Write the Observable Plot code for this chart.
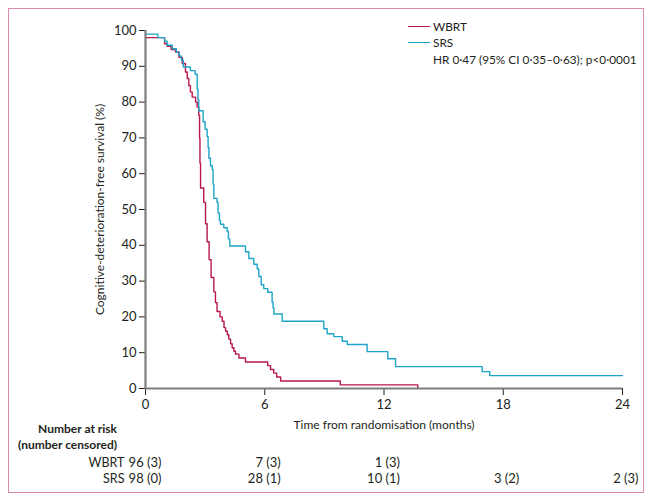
<!DOCTYPE html>
<html>
<head>
<meta charset="utf-8">
<script src="https://cdn.jsdelivr.net/npm/d3@7"></script>
<script src="https://cdn.jsdelivr.net/npm/@observablehq/plot@0.6"></script>
<style>
  html, body { margin: 0; padding: 0; background: #fff; }
  #wrap { position: relative; width: 653px; height: 504px; font-family: Lato, "Open Sans", sans-serif; color: #231f20; overflow: hidden; }
  #frame { position: absolute; left: 8px; top: 8px; width: 636px; height: 485px; border: 1.2px solid #dc8bb0; box-sizing: border-box; }
  .abs { position: absolute; white-space: nowrap; }
  .lg { position: absolute; font-size: 11.8px; line-height: 14px; white-space: nowrap; }
  .sw { position: absolute; height: 0; width: 22px; border-top: 1.4px solid; }
  .bold { font-weight: 700; font-size: 12px; line-height: 14px; text-align: right; }
</style>
</head>
<body>
<div id="wrap">
  <div id="frame"></div>
  <div id="main" class="abs" style="left:0;top:0"></div>
  <div id="risk" class="abs" style="left:0;top:446px"></div>
  <div class="abs bold" style="right:536px;top:422px">Number at risk</div>
  <div class="abs bold" style="right:536px;top:438px">(number censored)</div>
  <div class="sw" style="left:408px;top:26px;border-color:#b8164f"></div>
  <div class="sw" style="left:408px;top:42px;border-color:#1da4c8"></div>
  <div class="lg" style="left:433px;top:20px">WBRT</div>
  <div class="lg" style="left:433px;top:36px">SRS</div>
  <div class="lg" style="left:433px;top:53px">HR 0·47 (95% CI 0·35–0·63); p&lt;0·0001</div>
</div>
<script>
// Kaplan–Meier step points (months, % cognitive-deterioration-free)
const wbrtTime = [0, 0.96, 1.09, 1.29, 1.51, 1.68, 1.85, 2.01, 2.1, 2.18, 2.26, 2.35, 2.52, 2.6, 2.68, 2.72, 2.74, 2.77, 2.93, 3.02, 3.1, 3.2, 3.3, 3.44, 3.52, 3.6, 3.75, 3.86, 3.95, 4.03, 4.12, 4.19, 4.28, 4.36, 4.45, 4.53, 4.7, 5.03, 6.15, 6.29, 6.45, 6.6, 6.8, 9.8, 13.7];
const wbrtSurv = [98, 96.3, 95.6, 94.7, 94, 92.5, 90.8, 88.4, 86.6, 84.6, 82.8, 81.4, 80, 78.6, 76.3, 70, 63, 56, 52, 46, 41, 36, 31, 27, 24, 21.5, 20, 18.8, 17, 16, 15, 13.8, 12.5, 11.4, 10.4, 9.6, 8.5, 7.4, 6.4, 5.3, 4.3, 3.2, 2.1, 1.0, 0];
const srsTime = [0, 0.62, 0.96, 1.09, 1.35, 1.55, 1.7, 1.8, 1.9, 2.26, 2.5, 2.6, 2.64, 2.68, 2.9, 3.0, 3.1, 3.15, 3.19, 3.27, 3.36, 3.4, 3.44, 3.6, 3.65, 3.72, 3.77, 3.94, 4.11, 4.17, 4.24, 5.03, 5.2, 5.45, 5.62, 5.7, 5.82, 5.95, 6.15, 6.37, 6.42, 6.46, 6.88, 8.97, 9.14, 9.47, 9.9, 10.15, 11.15, 12.19, 12.58, 16.94, 17.32, 24.0];
const srsSurv = [99, 98, 97, 95.9, 94.9, 93.9, 92.9, 91.8, 89.8, 88.8, 87.8, 83.7, 80.6, 77.6, 74.5, 72.4, 70.4, 67.3, 64.3, 62.2, 61.2, 57.1, 53.1, 52.0, 49.0, 46.9, 45.9, 44.9, 43.9, 41.8, 39.8, 38.2, 36.3, 34.7, 33.4, 31.3, 29.0, 27.9, 26.9, 24.1, 22.5, 20.8, 18.8, 16.7, 15.3, 14.5, 13.2, 12.3, 10.3, 8.3, 6.1, 4.7, 3.6, 3.6];

// Axis ticks
const xTicks = [0, 6, 12, 18, 24];
const yTicks = [0, 10, 20, 30, 40, 50, 60, 70, 80, 90, 100];

// Number at risk (number censored)
const groups = ["WBRT", "SRS"];
const riskMonths = [0, 6, 12, 18, 24];
const wbrtRisk = ["96 (3)", "7 (3)", "1 (3)"];
const srsRisk = ["98 (0)", "28 (1)", "10 (1)", "3 (2)", "2 (3)"];

const colors = {WBRT: "#b8164f", SRS: "#1da4c8"};

const curves = [
  ...wbrtTime.map((t, i) => ({group: "WBRT", t, s: wbrtSurv[i]})),
  ...srsTime.map((t, i) => ({group: "SRS", t, s: srsSurv[i]}))
];

const font = "Lato, 'Open Sans', sans-serif";

const main = Plot.plot({
  width: 653,
  height: 432,
  marginLeft: 145,
  marginRight: 31,
  marginTop: 30,
  marginBottom: 44,
  style: {fontFamily: font, fontSize: "13px", color: "#231f20", background: "transparent"},
  x: {domain: [0, 24], ticks: xTicks},
  y: {domain: [0, 100], ticks: yTicks},
  color: {domain: groups, range: groups.map(g => colors[g])},
  marks: [
    Plot.axisY({ticks: yTicks, tickSize: 6, tickPadding: 3, stroke: "#231f20", strokeWidth: 1, fontSize: 13,
      label: "Cognitive-deterioration-free survival (%)", labelAnchor: "center", labelArrow: "none", labelOffset: 50}),
    Plot.axisX({ticks: xTicks, tickSize: 7, tickPadding: 4, stroke: "#231f20", strokeWidth: 1, fontSize: 13,
      label: "Time from randomisation (months)", labelAnchor: "center", labelArrow: "none", labelOffset: 40}),
    Plot.line(curves.filter(d => d.group === "WBRT"), {x: "t", y: "s", stroke: "group", curve: "step-after", strokeWidth: 1.4}),
    Plot.line(curves.filter(d => d.group === "SRS"), {x: "t", y: "s", stroke: "group", curve: "step-after", strokeWidth: 1.4}),
    Plot.ruleX([0], {stroke: "#7d7d7d", strokeWidth: 2.2, y1: 0, y2: 100}),
    Plot.ruleY([0], {stroke: "#7d7d7d", strokeWidth: 2.2, x1: 0, x2: 24})
  ]
});
// axis titles slightly smaller than tick labels
main.querySelectorAll("[aria-label='y-axis label'] text, [aria-label='x-axis label'] text").forEach(t => t.setAttribute("font-size", "12"));
document.getElementById("main").appendChild(main);

const riskRows = [
  ...wbrtRisk.map((v, i) => ({group: "WBRT", m: riskMonths[i], v})),
  ...srsRisk.map((v, i) => ({group: "SRS", m: riskMonths[i], v}))
];

const risk = Plot.plot({
  width: 653,
  height: 48,
  marginLeft: 145,
  marginRight: 31,
  marginTop: 16,
  marginBottom: 16,
  style: {fontFamily: font, fontSize: "13px", color: "#231f20", background: "transparent"},
  x: {domain: [0, 24], axis: null},
  y: {type: "point", domain: groups, padding: 0},
  marks: [
    Plot.axisY({tickSize: 0, tickPadding: 21, label: null, fontSize: 12.5}),
    Plot.text(riskRows, {x: "m", y: "group", text: "v", textAnchor: "end", dx: 16, fontSize: 13, fill: "#231f20"})
  ]
});
document.getElementById("risk").appendChild(risk);
</script>
</body>
</html>
